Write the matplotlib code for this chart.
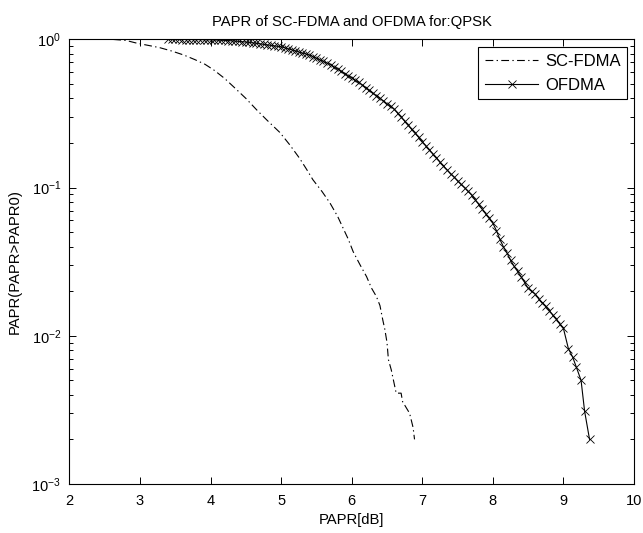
import numpy as np
import matplotlib
matplotlib.use("Agg")
import matplotlib.pyplot as plt
from matplotlib.ticker import LogLocator, NullFormatter

plt.rcParams['font.family'] = ['Liberation Sans', 'DejaVu Sans']
plt.rcParams['mathtext.fontset'] = 'custom'
plt.rcParams['mathtext.rm'] = 'Liberation Sans'

# ------------------------------------------------------------
# Data (CCDF of PAPR)
# ------------------------------------------------------------
sc_papr = [2.62, 2.80, 2.95, 3.10, 3.28, 3.45, 3.62, 3.78, 3.92, 4.05,
           4.20, 4.37, 4.50, 4.65, 4.80, 4.98, 5.12, 5.26, 5.36, 5.45,
           5.58, 5.69, 5.80, 5.88, 5.95, 6.02, 6.12, 6.21, 6.28, 6.35,
           6.40, 6.44, 6.47, 6.50, 6.52, 6.56, 6.63, 6.70, 6.72, 6.82,
           6.87, 6.89]
sc_ccdf = [1.000, 0.985, 0.945, 0.915, 0.880, 0.835, 0.785, 0.730, 0.680, 0.620,
           0.545, 0.458, 0.400, 0.336, 0.285, 0.236, 0.195, 0.158, 0.133, 0.113,
           0.094, 0.0790, 0.064, 0.0530, 0.045, 0.037, 0.030, 0.0251, 0.021, 0.0184,
           0.0160, 0.0128, 0.0110, 0.0090, 0.0069, 0.0059, 0.0041, 0.0041, 0.0036, 0.0030,
           0.0024, 0.0020]

ofdma_papr = [3.40, 3.45, 3.50, 3.55, 3.60, 3.65, 3.70, 3.75, 3.80, 3.85,
              3.90, 3.95, 4.00, 4.05, 4.10, 4.15, 4.20, 4.25, 4.30, 4.35,
              4.40, 4.45, 4.50, 4.55, 4.60, 4.65, 4.70, 4.75, 4.80, 4.85,
              4.90, 4.95, 5.00, 5.05, 5.10, 5.15, 5.20, 5.25, 5.30, 5.35,
              5.40, 5.45, 5.50, 5.55, 5.60, 5.65, 5.70, 5.75, 5.80, 5.85,
              5.90, 5.95, 6.00, 6.05, 6.10, 6.15, 6.20, 6.25, 6.30, 6.35,
              6.40, 6.45, 6.50, 6.55, 6.60, 6.65, 6.70, 6.75, 6.80, 6.85,
              6.90, 6.95, 7.00, 7.05, 7.10, 7.15, 7.20, 7.25, 7.30, 7.35,
              7.40, 7.45, 7.50, 7.55, 7.60, 7.65, 7.70, 7.75, 7.80, 7.85,
              7.90, 7.95, 8.00, 8.05, 8.10, 8.15, 8.20, 8.25, 8.30, 8.35,
              8.40, 8.45, 8.50, 8.55, 8.60, 8.65, 8.70, 8.75, 8.80, 8.85,
              8.90, 8.95, 9.00, 9.07, 9.13, 9.18, 9.25, 9.30, 9.37]
ofdma_ccdf = [1.000, 1.000, 1.000, 1.000, 0.999, 0.999, 0.999, 0.998, 0.998, 0.997,
              0.996, 0.995, 0.994, 0.992, 0.990, 0.988, 0.985, 0.982, 0.978, 0.974,
              0.970, 0.965, 0.960, 0.954, 0.948, 0.941, 0.934, 0.926, 0.919, 0.912,
              0.905, 0.898, 0.891, 0.879, 0.865, 0.851, 0.838, 0.822, 0.809, 0.798,
              0.785, 0.766, 0.746, 0.728, 0.710, 0.692, 0.676, 0.653, 0.631, 0.610,
              0.589, 0.569, 0.550, 0.531, 0.513, 0.492, 0.472, 0.453, 0.435, 0.417,
              0.400, 0.384, 0.368, 0.353, 0.339, 0.318, 0.299, 0.281, 0.263, 0.247,
              0.232, 0.218, 0.204, 0.192, 0.180, 0.169, 0.159, 0.149, 0.140, 0.132,
              0.124, 0.118, 0.111, 0.105, 0.0998, 0.0942, 0.0891, 0.0828, 0.0771, 0.0716,
              0.0665, 0.0619, 0.0575, 0.0513, 0.0447, 0.0398, 0.0363, 0.0324, 0.0295, 0.0272,
              0.0251, 0.0229, 0.0209, 0.0200, 0.0191, 0.0178, 0.0166, 0.0158, 0.0148, 0.0138,
              0.0129, 0.0120, 0.0112, 0.0082, 0.0072, 0.0062, 0.0050, 0.0031, 0.0020]

x_ticks = [2, 3, 4, 5, 6, 7, 8, 9, 10]

# ------------------------------------------------------------
# Plot
# ------------------------------------------------------------
fig = plt.figure(figsize=(6.43, 5.33), dpi=100)
ax = fig.add_axes([0.108, 0.092, 0.878, 0.834])

ax.semilogy(sc_papr, sc_ccdf, color='k', lw=0.8, label='SC-FDMA',
            dashes=(7, 3, 1.2, 3))
ax.semilogy(ofdma_papr, ofdma_ccdf, '-x', color='k', lw=0.8,
            ms=6, mew=0.6, label='OFDMA')

ax.set_xlim(2, 10)
ax.set_ylim(1e-3, 1)
ax.set_xticks(x_ticks)
ax.set_xticklabels([str(t) for t in x_ticks])
ax.yaxis.set_major_locator(LogLocator(base=10, numticks=10))
ax.yaxis.set_minor_locator(LogLocator(base=10, subs=np.arange(2, 10), numticks=10))
ax.yaxis.set_minor_formatter(NullFormatter())
ax.tick_params(which='both', direction='in', top=True, right=True,
               labelsize=10.5, width=0.7)
ax.tick_params(which='major', length=5)
ax.tick_params(which='minor', length=3)
ax.tick_params(axis='x', pad=7)
ax.tick_params(axis='y', pad=6)
for s in ax.spines.values():
    s.set_linewidth(0.8)

ax.set_title('PAPR of SC-FDMA and OFDMA for:QPSK', fontsize=10.7, pad=10)
ax.set_xlabel('PAPR[dB]', fontsize=10.7, labelpad=4)
ax.set_ylabel('PAPR(PAPR>PAPR0)', fontsize=10.7, labelpad=7)

leg = ax.legend(loc='upper right', bbox_to_anchor=(0.988, 0.983), fontsize=12,
                handlelength=3.2, handletextpad=0.4, labelspacing=0.55,
                fancybox=False, framealpha=1, edgecolor='k',
                borderaxespad=0, borderpad=0.4)
leg.get_frame().set_linewidth(0.8)

fig.savefig('out.png', dpi=100)
